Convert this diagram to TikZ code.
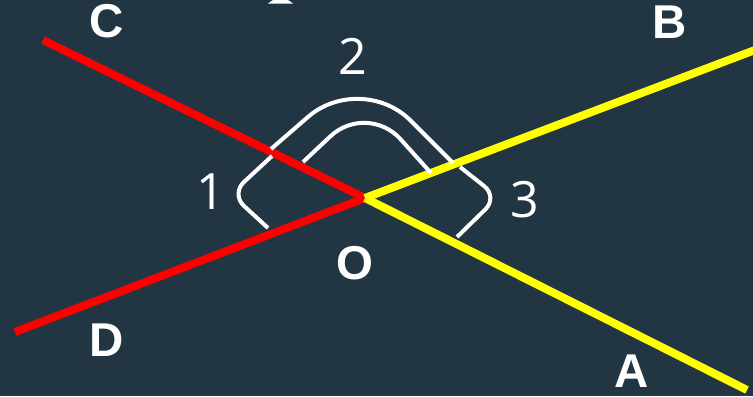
\documentclass[tikz,border=0pt]{standalone}
\usepackage{fontspec}
\setmainfont{Liberation Sans}
\newfontfamily\digitfont{Open Sans}

\definecolor{bgslate}{RGB}{33,54,66}
\definecolor{rayred}{RGB}{255,0,0}
\definecolor{rayyellow}{RGB}{255,255,0}

\newcommand*{\picw}{753}
\newcommand*{\pich}{396}

\begin{document}
\begin{tikzpicture}
[
	x=0.02cm, y=-0.02cm,
	ray/.style={line width=0.16cm},
	anglemark/.style={white, line width=0.08cm},
	ptlabel/.style={text=white, inner sep=0pt, font=\fontsize{27}{27}\selectfont\bfseries},
	anglelabel/.style={text=white, inner sep=0pt, font=\digitfont\fontsize{28.5}{28.5}\selectfont}
]

	% background
	\fill[bgslate] (0,0) rectangle (\picw,\pich);
	\useasboundingbox (0,0) rectangle (\picw,\pich);
	\clip (0,0) rectangle (\picw,\pich);

	% left over of a title
	\fill[white] (273,0) -- (288,0) -- (293,3.5) -- (268,3.5) -- cycle;

	% points
	\coordinate (O) at (365,198);
	\coordinate (A) at (747,390);
	\coordinate (B) at (755,50);
	\coordinate (C) at (43,40);
	\coordinate (D) at (15,332);

	% rays
	\draw[ray, rayred] (C) -- (O);
	\draw[ray, rayred] (D) -- (O);
	\draw[ray, rayyellow] (O) -- (B);
	\draw[ray, rayyellow] (O) -- (A);

	% angle marks
	\draw[anglemark, rounded corners=0.35cm] (272,156) -- (231,194) -- (268,228);
	\draw[anglemark, rounded corners=1.4cm] (271,149) -- (361,71) -- (453,163);
	\draw[anglemark, rounded corners=1.0cm] (303,162) -- (367,102) -- (431,173);
	\draw[anglemark, rounded corners=0.35cm] (460,167) -- (498,197) -- (457,237);

	% point labels
	\node[ptlabel] (labA) at (632,371) {A};
	\node[ptlabel] (labB) at (670,22) {B};
	\node[ptlabel] (labC) at (107,21) {C};
	\node[ptlabel] (labD) at (107,340) {D};
	\node[ptlabel] (labO) at (355,263) {O};

	% angle labels
	\node[anglelabel] (ang1) at (211,192) {1};
	\node[anglelabel] (ang2) at (353,56) {2};
	\node[anglelabel] (ang3) at (525,200) {3};

\end{tikzpicture}
\end{document}
